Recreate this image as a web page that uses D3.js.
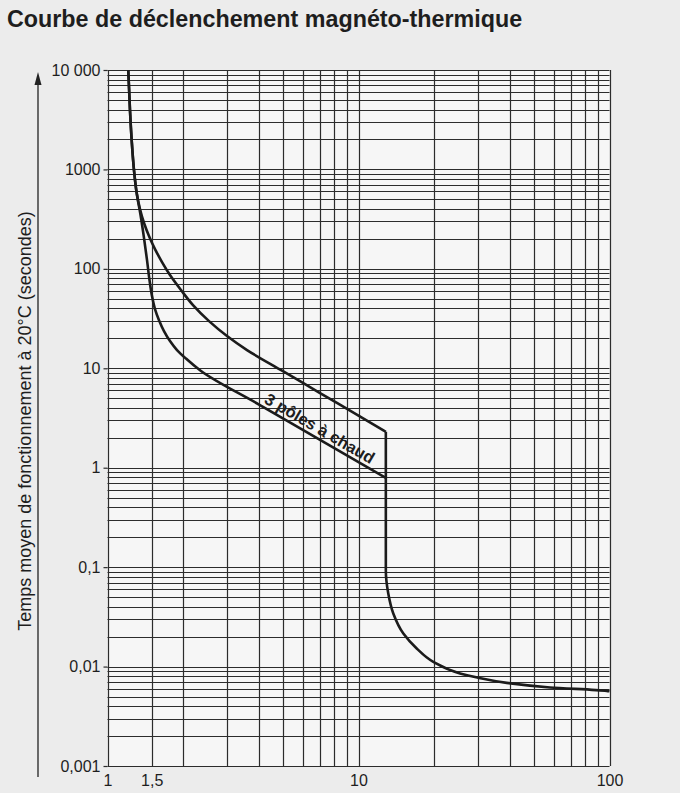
<!DOCTYPE html>
<html>
<head>
<meta charset="utf-8">
<script src="https://cdn.jsdelivr.net/npm/d3@7"></script>
<style>
  html, body { margin: 0; padding: 0; background: #ececec; }
  svg { display: block; }
  text { font-family: "Liberation Sans", Arial, Helvetica, sans-serif; fill: #1e1e1e; }
</style>
</head>
<body>
<svg id="chart" width="680" height="793"></svg>
<script>
// ---------- data ----------
const titleText = "Courbe de déclenchement magnéto-thermique";
const yAxisTitle = "Temps moyen de fonctionnement à 20°C (secondes)";

const xGridValues = [1, 1.5, 2, 3, 4, 5, 6, 7, 8, 9, 10, 20, 30, 40, 50, 60, 70, 80, 90, 100];
const xTickValues = [1, 1.5, 10, 100];
const xTickLabels = ["1", "1,5", "10", "100"];

const yDecades = [0.001, 0.01, 0.1, 1, 10, 100, 1000];
const yMultipliers = [1, 2, 3, 4, 5, 6, 7, 8, 9];
const yTickValues = [0.001, 0.01, 0.1, 1, 10, 100, 1000, 10000];
const yTickLabels = ["0,001", "0,01", "0,1", "1", "10", "100", "1000", "10 000"];

// common start of both thermal curves [current multiple, seconds]
const sharedCurve = [[1.210, 10000], [1.229, 3960], [1.249, 1931], [1.275, 986], [1.307, 579]];
// upper thermal curve (cold)
const upperBranch = [[1.347, 400], [1.398, 289], [1.463, 214], [1.546, 158], [1.649, 117],
  [1.774, 86.6], [1.963, 61.2], [2.191, 43.2], [2.538, 29.8], [2.993, 21.1], [3.596, 15.25],
  [5, 9.35], [7, 5.67], [10, 3.34], [12.85, 2.30]];
// lower thermal curve (3 poles hot)
const lowerBranch = [[1.354, 348], [1.398, 204], [1.437, 122.6], [1.470, 77.2], [1.504, 53.3],
  [1.546, 39.4], [1.604, 30.5], [1.679, 23.7], [1.774, 18.8], [1.892, 15.25], [2.054, 12.52],
  [2.351, 9.44], [4, 4.34], [7, 1.92], [12.85, 0.79]];
// magnetic trip: vertical drop then tail
const magneticBranch = [[12.85, 2.30], [12.85, 0.3], [12.85, 0.093], [13.14, 0.0543], [13.76, 0.0342],
  [15.09, 0.0215], [17.06, 0.0152], [19.86, 0.01115], [25.38, 0.00853], [29.74, 0.00777],
  [38.94, 0.00686], [57.94, 0.00617], [97.4, 0.0057], [100, 0.00565]];

const curveLabel = "3 pôles à chaud";
const curveLabelAt = 4.1;   // current multiple where the label starts, along the lower curve

// ---------- drawing ----------
const svg = d3.select("#chart");
const pLeft = 107.5, pRight = 609.5, pTop = 70, pBottom = 766;

const x = d3.scaleLog().domain([1, 100]).range([pLeft, pRight]);
const y = d3.scaleLog().domain([0.001, 10000]).range([pBottom, pTop]);

// plot paper
svg.append("rect").attr("x", pLeft).attr("y", pTop)
  .attr("width", pRight - pLeft).attr("height", pBottom - pTop)
  .attr("fill", "#f6f6f6");

// title
svg.append("text").attr("x", 7).attr("y", 27)
  .style("font-size", "23.3px").style("font-weight", "bold")
  .text(titleText);

// horizontal grid
const yGridValues = [];
yDecades.forEach(d => yMultipliers.forEach(m => yGridValues.push(+(d * m).toPrecision(6))));
yGridValues.push(10000);

const grid = svg.append("g").attr("stroke", "#2c2c2c").attr("stroke-width", 1.2).attr("fill", "none");
grid.selectAll("line.h").data(yGridValues).join("line")
  .attr("class", "h")
  .attr("x1", pLeft).attr("x2", pRight)
  .attr("y1", d => Math.round(y(d)) + 0.5).attr("y2", d => Math.round(y(d)) + 0.5);

// vertical grid
grid.selectAll("line.v").data(xGridValues).join("line")
  .attr("class", "v")
  .attr("y1", pTop).attr("y2", pBottom)
  .attr("x1", d => Math.round(x(d)) + 0.5).attr("x2", d => Math.round(x(d)) + 0.5);

// y axis ticks & labels
const yAxis = d3.axisLeft(y).tickValues(yTickValues)
  .tickFormat((d, i) => yTickLabels[i]).tickSize(4).tickPadding(3);
const gy = svg.append("g").attr("transform", `translate(${pLeft},0)`).call(yAxis);
gy.select(".domain").remove();
gy.selectAll(".tick line").attr("stroke", "#2c2c2c").attr("stroke-width", 1.2);
gy.selectAll(".tick text").style("font-size", "16px").attr("fill", "#1e1e1e")
  .style("font-family", "'Liberation Sans', Arial, sans-serif");

// x axis labels
const xAxis = d3.axisBottom(x).tickValues(xTickValues)
  .tickFormat((d, i) => xTickLabels[i]).tickSize(0).tickPadding(9);
const gx = svg.append("g").attr("transform", `translate(0,${pBottom})`).call(xAxis);
gx.select(".domain").remove();
gx.selectAll(".tick text").style("font-size", "16px").attr("fill", "#1e1e1e")
  .style("font-family", "'Liberation Sans', Arial, sans-serif");

// y axis title + arrow
svg.append("text")
  .attr("transform", `translate(31,421) rotate(-90)`)
  .attr("text-anchor", "middle")
  .style("font-size", "18px")
  .text(yAxisTitle);

svg.append("line").attr("x1", 38).attr("x2", 38).attr("y1", 777).attr("y2", 82)
  .attr("stroke", "#222").attr("stroke-width", 1.3);
svg.append("path").attr("d", "M38,72 L34.5,85 L41.5,85 Z").attr("fill", "#222");

// curves
const line = d3.line()
  .x(d => x(d[0])).y(d => y(d[1]))
  .curve(d3.curveMonotoneY);

const curves = svg.append("g").attr("fill", "none").attr("stroke", "#1b1b1b")
  .attr("stroke-width", 2.6).attr("stroke-linejoin", "miter").attr("stroke-linecap", "butt");
curves.append("path").attr("d", line(sharedCurve.concat(upperBranch)));
curves.append("path").attr("d", line(sharedCurve.concat(lowerBranch)));
curves.append("path").attr("d", line(magneticBranch));

// curve label along the straight part of the lower curve
const a = lowerBranch[lowerBranch.length - 4];  // start of straight segment
const b = lowerBranch[lowerBranch.length - 1];
const slope = Math.log(b[1] / a[1]) / Math.log(b[0] / a[0]);
const labelY = a[1] * Math.pow(curveLabelAt / a[0], slope);
const angle = Math.atan2(y(b[1]) - y(a[1]), x(b[0]) - x(a[0])) * 180 / Math.PI;
svg.append("text")
  .attr("transform", `translate(${x(curveLabelAt)},${y(labelY)}) rotate(${angle}) translate(0,-4)`)
  .style("font-size", "16.5px").style("font-weight", "bold")
  .text(curveLabel);
</script>
</body>
</html>
